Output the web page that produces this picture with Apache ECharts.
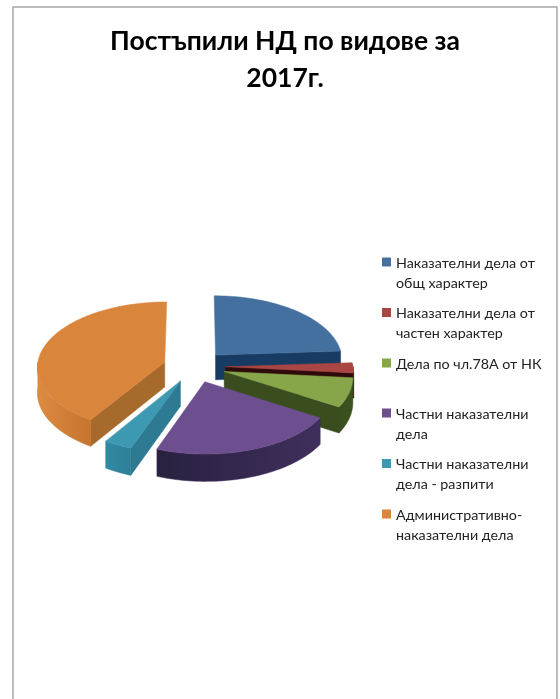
<!DOCTYPE html>
<html><head><meta charset="utf-8">
<style>html,body{margin:0;padding:0;background:#fff}#c{width:560px;height:699px}</style>
<script src="https://cdn.jsdelivr.net/npm/echarts@6/dist/echarts.min.js"></script>
</head><body><div id="c"></div>
<script>
const titleLines = ['Постъпили НД по видове за', '2017г.'];
const categories = ['Наказателни дела от общ характер','Наказателни дела от частен характер','Дела по чл.78А от НК','Частни наказателни дела','Частни наказателни дела - разпити','Административно-наказателни дела'];
const legendLines = [['Наказателни дела от','общ характер'],['Наказателни дела от','частен характер'],['Дела по чл.78А от НК'],['Частни наказателни','дела'],['Частни наказателни','дела - разпити'],['Административно-','наказателни дела']];
const values = [24, 2.5, 7.2, 22, 3.3, 41];

const topColors = ['#44709f','#a94542','#87a64a','#6d4e8f','#3d98b2','#da853c'];
const wallA = ['#163a60','#5a1a18','#3c5220','#3e2f5c','#2f7f98','#c6742e'];
const wallB = ['#163a60','#3a0d0c','#3a4e1e','#2a2140','#2f8aa3','#dd8b42'];
const faceColors = ['#173b62','#2e0b0a','#394d1e','#2c2244','#2e7a92','#a76a2d'];

const FONT = 'Lato, "Open Sans", sans-serif';
const CX = 194.5, CY = 366.5, RX = 127.5, RY = 65, DEPTH = 25, PERSP = 0.07, EXPLODE = 0.244;
const total = values.reduce((a, b) => a + b, 0);

function renderSlice(params, api) {
  const i = params.dataIndex;
  let before = 0;
  for (let k = 0; k < i; k++) before += values[k];
  const a0 = before / total * Math.PI * 2;
  const a1 = (before + api.value(0)) / total * Math.PI * 2;
  const mid = (a0 + a1) / 2;
  const ou = Math.sin(mid) * EXPLODE, ov = Math.cos(mid) * EXPLODE;
  const proj = (u, v, z) => {
    const s = 1 / (1 + PERSP * v);
    return [CX + RX * u * s, CY - RY * v * s + z * DEPTH * s];
  };
  const rim = (a, z) => proj(ou + Math.sin(a), ov + Math.cos(a), z);
  const arc = (from, to, z) => {
    const pts = [], n = 48;
    for (let k = 0; k <= n; k++) pts.push(rim(from + (to - from) * k / n, z));
    return pts;
  };
  const children = [];
  const flat = (c, pts) => children.push({ type: 'polygon', shape: { points: pts }, style: { fill: c, stroke: c, lineWidth: 0.5 } });
  // radial cut faces that look towards the viewer
  if (Math.sin(a0) < -1e-6) flat(faceColors[i], [proj(ou, ov, 0), rim(a0, 0), rim(a0, 1), proj(ou, ov, 1)]);
  if (Math.sin(a1) > 1e-6) flat(faceColors[i], [proj(ou, ov, 0), rim(a1, 0), rim(a1, 1), proj(ou, ov, 1)]);
  // outer wall
  const w0 = Math.max(a0, Math.PI / 2), w1 = Math.min(a1, Math.PI * 1.5);
  if (w1 > w0) {
    const pts = arc(w0, w1, 0).concat(arc(w0, w1, 1).reverse());
    children.push({ type: 'polygon', shape: { points: pts }, style: {
      fill: new echarts.graphic.LinearGradient(0, 0, 1, 0, [{ offset: 0, color: wallB[i] }, { offset: 1, color: wallA[i] }]),
      stroke: wallA[i], lineWidth: 0.5 } });
  }
  // top surface
  flat(topColors[i], [proj(ou, ov, 0)].concat(arc(a0, a1, 0)));
  const rank = 5 - Math.round((Math.cos(mid) + 1) * 2.5);
  return { type: 'group', z2: rank * 10 + (1 - Math.cos(mid)), children };
}

const legendTop = [262, 312.5, 363, 413, 463.5, 514];
const graphics = [{ type: 'rect', shape: { x: 13, y: 7, width: 544, height: 720 }, style: { fill: 'none', stroke: '#a6a6a6', lineWidth: 1.5 }, silent: true }];
legendLines.forEach((lines, i) => {
  graphics.push({ type: 'rect', shape: { x: 382, y: legendTop[i] - 4.5, width: 9, height: 9 }, style: { fill: topColors[i] } });
  lines.forEach((t, j) => graphics.push({ type: 'text', x: 396, y: legendTop[i] + 1 + j * 20, style: { text: t, font: '14.3px ' + FONT, fill: '#222', textVerticalAlign: 'middle' } }));
});
titleLines.forEach((t, j) => graphics.push({ type: 'text', x: 285, y: 41 + j * 37.5, style: { text: t, font: 'bold 26.5px ' + FONT, fill: '#000', textAlign: 'center', textVerticalAlign: 'middle' } }));

const chart = echarts.init(document.getElementById('c'), null, { renderer: 'canvas' });
chart.setOption({
  animation: false,
  backgroundColor: '#fff',
  graphic: graphics,
  series: [{
    type: 'custom', coordinateSystem: 'none', renderItem: renderSlice,
    data: values.map((v, i) => ({ name: categories[i], value: [v] }))
  }]
});
</script></body></html>
